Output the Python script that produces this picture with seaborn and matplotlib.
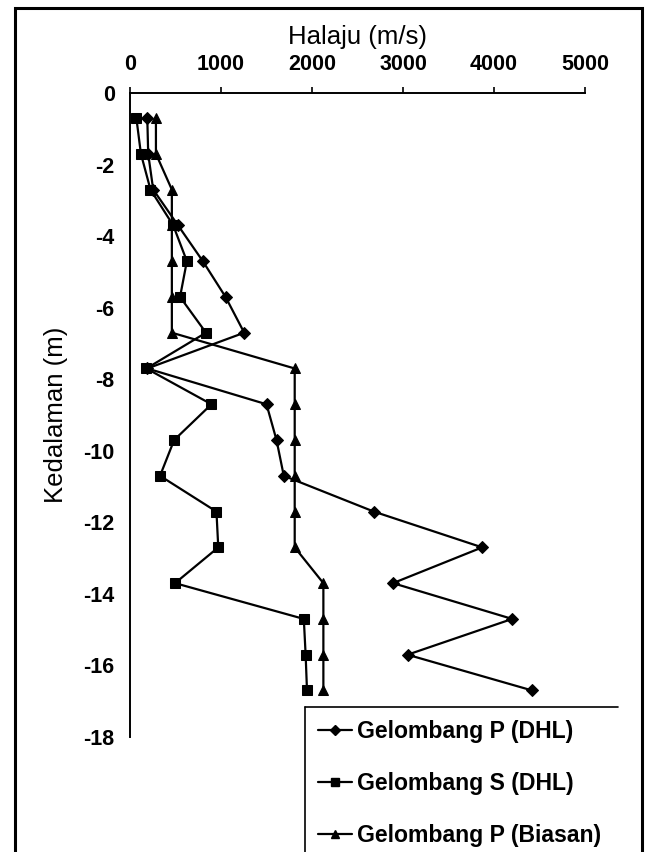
import matplotlib
matplotlib.use('Agg')
import matplotlib.pyplot as plt
import seaborn as sns
import pandas as pd
from matplotlib.lines import Line2D
from matplotlib.patches import Rectangle

# depth (m) and wave velocities (m/s)
kedalaman = [-0.7, -1.7, -2.7, -3.7, -4.7, -5.7, -6.7, -7.7, -8.7,
             -9.7, -10.7, -11.7, -12.7, -13.7, -14.7, -15.7, -16.7]
p_dhl = [190, 200, 255, 528, 800, 1050, 1255, 190, 1500,
         1610, 1690, 2680, 3870, 2890, 4200, 3050, 4420]
s_dhl = [70, 120, 225, 475, 625, 550, 835, 180, 895,
         485, 330, 950, 970, 495, 1910, 1930, 1945]
p_biasan = [285, 285, 460, 460, 460, 460, 460, 1810, 1810,
            1810, 1810, 1810, 1810, 2125, 2125, 2125, 2125]

labels = ['Gelombang P (DHL)', 'Gelombang S (DHL)', 'Gelombang P (Biasan)']
markers = ['D', 's', '^']
x_ticks = [0, 1000, 2000, 3000, 4000, 5000]
y_ticks = [0, -2, -4, -6, -8, -10, -12, -14, -16, -18]

df = pd.concat([
    pd.DataFrame({'halaju': v, 'kedalaman': kedalaman, 'gelombang': lab})
    for v, lab in zip([p_dhl, s_dhl, p_biasan], labels)
])

sns.set_style('white')
plt.rcParams['font.family'] = ['Liberation Sans', 'DejaVu Sans']
plt.rcParams['axes.unicode_minus'] = False

fig = plt.figure(figsize=(6.45, 8.52), dpi=100)
ax = fig.add_axes([130 / 645, 1 - 737 / 852, 455 / 645, 644 / 852])

sns.lineplot(data=df, x='halaju', y='kedalaman', hue='gelombang', style='gelombang',
             markers=markers, dashes=False, palette=['black'] * 3, sort=False,
             estimator=None, linewidth=1.6, markersize=6.5, markeredgecolor='black',
             ax=ax, legend=False)

ax.set_xlim(0, 5000)
ax.set_ylim(-18, 0)
ax.set_xticks(x_ticks)
ax.set_yticks(y_ticks)
ax.set_xticklabels([str(t) for t in x_ticks])
ax.set_yticklabels([str(t) for t in y_ticks])
ax.xaxis.tick_top()
ax.xaxis.set_label_position('top')
for s in ['bottom', 'right']:
    ax.spines[s].set_visible(False)
for s in ['top', 'left']:
    ax.spines[s].set_color('black')
    ax.spines[s].set_linewidth(1.4)
ax.tick_params(axis='x', direction='out', length=4, width=1.2, pad=9,
               labelsize=15.5, colors='black')
ax.tick_params(axis='y', direction='out', length=5, width=1.2, pad=6,
               labelsize=15.5, colors='black')
for lab in ax.get_xticklabels() + ax.get_yticklabels():
    lab.set_fontweight('bold')

ax.set_xlabel('Halaju (m/s)', fontsize=18.5, labelpad=7, color='black')
ax.set_ylabel('Kedalaman (m)', fontsize=18.5, labelpad=11, color='black')

handles = [Line2D([], [], color='black', marker=m, markersize=5.5, linewidth=1.6)
           for m in markers]
fig.legend(handles, labels, loc='upper left', bbox_to_anchor=(305 / 645, 1 - 707 / 852),
           frameon=False, prop={'size': 16.6, 'weight': 'bold'}, borderpad=0.55,
           borderaxespad=0, labelspacing=1.26, handlelength=1.5, handletextpad=0.2,
           labelcolor='black')

# partial legend frame (cut off at the bottom in the original)
fig.add_artist(Line2D([305 / 645, 618 / 645], [1 - 707 / 852] * 2,
                      transform=fig.transFigure, color='black', linewidth=1.2))
fig.add_artist(Line2D([305 / 645] * 2, [1 - 707 / 852, 0],
                      transform=fig.transFigure, color='black', linewidth=1.2))
# outer chart border
fig.add_artist(Rectangle((15 / 645, -0.1), 627 / 645, 1.1 - 8 / 852, transform=fig.transFigure,
                         fill=False, edgecolor='black', linewidth=2.2))

fig.savefig('out.png', dpi=100)
